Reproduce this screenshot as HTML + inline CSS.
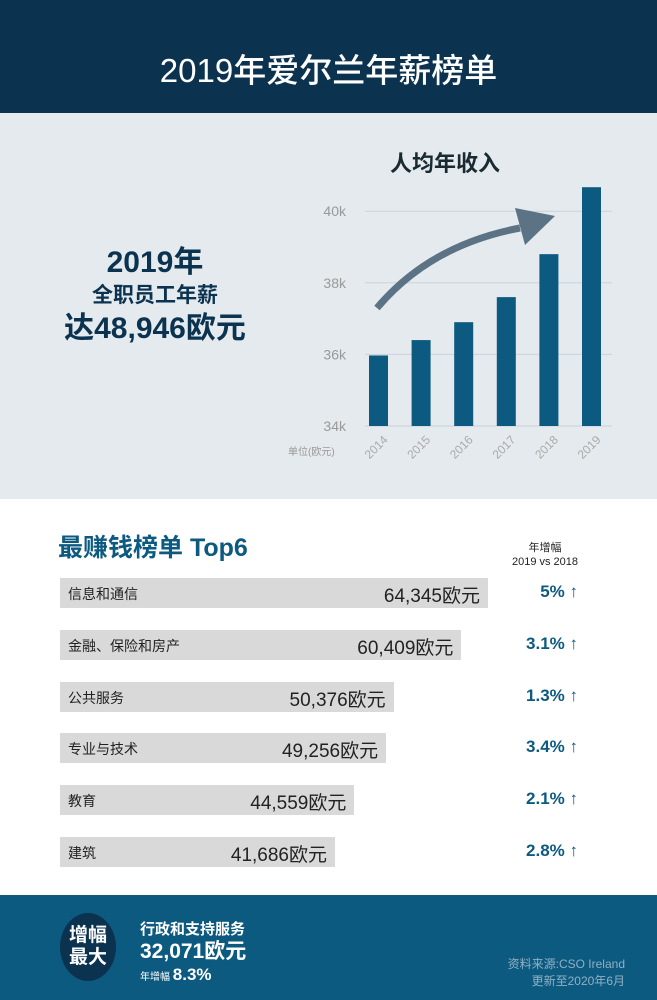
<!DOCTYPE html>
<html><head><meta charset="utf-8"><style>
*{margin:0;padding:0;box-sizing:border-box}
body{width:657px;height:1000px;overflow:hidden;font-family:"Liberation Sans","Noto Sans CJK SC",sans-serif;background:#fff;position:relative}
.abs{position:absolute}
.rowlabel{position:absolute;left:68px;font-size:14px;color:#222}
.rowval{position:absolute;font-size:19px;color:#222;text-align:right}
.pct{position:absolute;left:498px;width:80px;font-size:17px;font-weight:bold;color:#0d5a80;text-align:right}
</style></head><body>
<div class="abs" style="left:0;top:0;width:657px;height:113px;background:#0b3350"></div>
<div class="abs" style="left:0;top:44px;width:657px;text-align:center;color:#fff;font-size:33px;font-weight:500">2019年爱尔兰年薪榜单</div>
<div class="abs" style="left:0;top:113px;width:657px;height:386px;background:#e4eaee"></div>
<div class="abs" style="left:20px;top:245px;width:270px;text-align:center;color:#0b3350;font-weight:bold">
<div style="font-size:30px;line-height:36px">2019年</div>
<div style="font-size:21px;line-height:30px">全职员工年薪</div>
<div style="font-size:30px;line-height:36px">达48,946欧元</div></div>
<div class="abs" style="left:390px;top:146px;font-size:22px;font-weight:bold;color:#1a2a33">人均年收入</div>
<svg class="abs" style="left:0;top:0" width="657" height="500" id="chart">
<path d="M377,308 Q430,245 520,228" stroke="#5b7385" stroke-width="7" fill="none"/>
<path d="M515,208 L555,216 L525,245 Z" fill="#5b7385"/>
</svg>
<div class="abs" style="left:58px;top:528px;font-size:25px;font-weight:bold;color:#0d5a80">最赚钱榜单 Top6</div>
<div class="abs" style="left:495px;top:541px;width:100px;text-align:center;font-size:11px;color:#222;line-height:14px">年增幅<br>2019 vs 2018</div>
<div id="rows"></div>
<div class="abs" style="left:0;top:895px;width:657px;height:105px;background:#0d5a80"></div>
<div class="abs" style="left:60px;top:913px;width:56px;height:68px;border-radius:50%;background:#0b3350;color:#fff;font-size:19px;font-weight:bold;text-align:center;line-height:22px;padding-top:12px">增幅<br>最大</div>
<div class="abs" style="left:140px;top:918px;color:#fff">
<div style="font-size:15px;font-weight:bold">行政和支持服务</div>
<div style="font-size:21px;font-weight:bold;line-height:26px">32,071欧元</div>
<div style="font-size:10px">年增幅 <span style="font-size:17px;font-weight:bold">8.3%</span></div></div>
<div class="abs" style="right:32px;top:956px;text-align:right;color:#8fb0c4;font-size:12px;line-height:17px">资料来源:CSO Ireland<br>更新至2020年6月</div>
<script>
const years=["2014","2015","2016","2017","2018","2019"];
const income=[35.97,36.4,36.9,37.6,38.8,40.67];
const yTicks=[34,36,38,40];
const svg=document.getElementById('chart');const NS='http://www.w3.org/2000/svg';
const y=v=>426-(v-34)*35.8, x=i=>369+i*42.6;
yTicks.forEach(t=>{const l=document.createElementNS(NS,'line');l.setAttribute('x1',365);l.setAttribute('x2',612);l.setAttribute('y1',y(t));l.setAttribute('y2',y(t));l.setAttribute('stroke','#c9d3da');l.setAttribute('stroke-width','1');

svg.insertBefore(l,svg.children[0]);
const tx=document.createElementNS(NS,'text');tx.setAttribute('x',346);tx.setAttribute('y',y(t)+5);tx.setAttribute('text-anchor','end');tx.setAttribute('font-size','14');tx.setAttribute('fill','#999');tx.textContent=t+'k';

svg.appendChild(tx);});
years.forEach((yr,i)=>{const r=document.createElementNS(NS,'rect');r.setAttribute('x',x(i));r.setAttribute('width',19);r.setAttribute('y',y(income[i]));r.setAttribute('height',426-y(income[i]));r.setAttribute('fill','#0d5a80');

svg.insertBefore(r,svg.children[4]);
const t=document.createElementNS(NS,'text');const cx=x(i)+10,cy=450;t.setAttribute('x',cx);t.setAttribute('y',cy);t.setAttribute('text-anchor','middle');t.setAttribute('font-size','12');t.setAttribute('fill','#aaa');t.setAttribute('transform','rotate(-45 '+cx+' '+cy+')');t.textContent=yr;

svg.appendChild(t);});
const u=document.createElementNS(NS,'text');u.setAttribute('x',288);u.setAttribute('y',455);u.setAttribute('font-size','10');u.setAttribute('fill','#999');u.textContent='单位(欧元)';

svg.appendChild(u);
const cats=["信息和通信","金融、保险和房产","公共服务","专业与技术","教育","建筑"];
const salaries=[64345,60409,50376,49256,44559,41686];
const growth=["5%","3.1%","1.3%","3.4%","2.1%","2.8%"];
const rows=document.getElementById('rows');
cats.forEach((c,i)=>{const top=578+i*51.8;const w=(salaries[i]-958)/(64345-958)*428;
const b=document.createElement('div');b.className='abs';b.style.cssText=`left:60px;top:${top}px;width:${w}px;height:30px;background:#d9d9d9`;

rows.appendChild(b);
const l=document.createElement('div');l.className='rowlabel';l.style.top=(top+6)+'px';l.textContent=c;

rows.appendChild(l);
const v=document.createElement('div');v.className='rowval';v.style.left='60px';v.style.width=(w-8)+'px';v.style.top=(top+3)+'px';v.textContent=salaries[i].toLocaleString('en-US')+'欧元';

rows.appendChild(v);
const p=document.createElement('div');p.className='pct';p.style.top=(top+4)+'px';p.textContent=growth[i]+' ↑';

rows.appendChild(p);});
</script>
</body></html>
